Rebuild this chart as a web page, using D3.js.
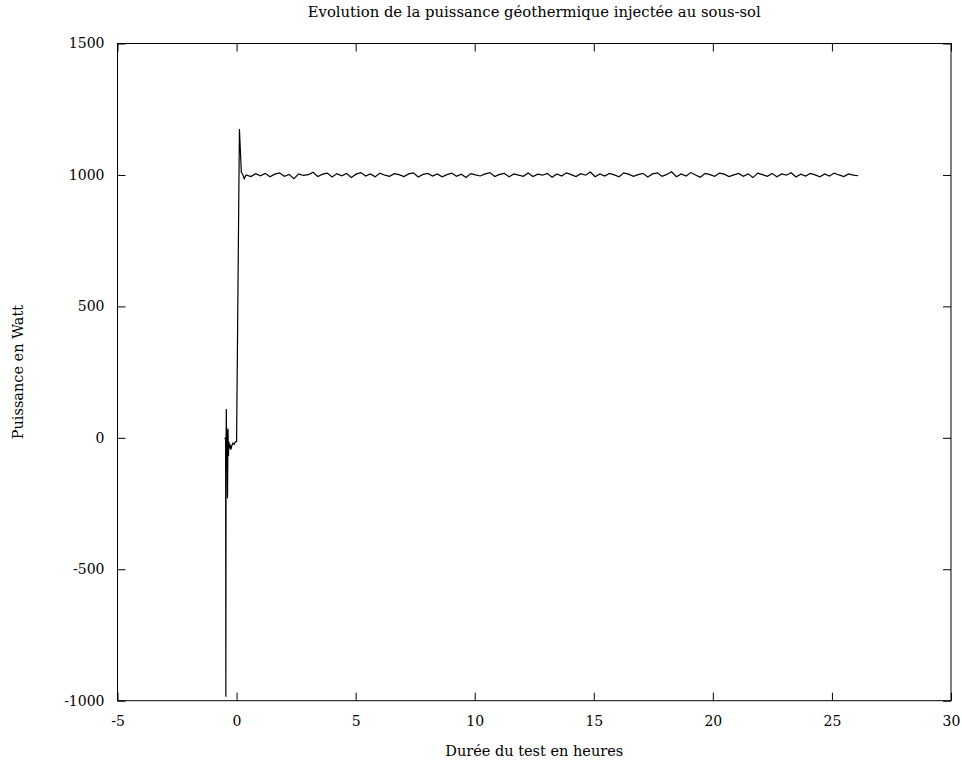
<!DOCTYPE html>
<html><head><meta charset="utf-8">
<script src="https://cdn.jsdelivr.net/npm/d3@7"></script>
<style>
html,body{margin:0;padding:0;background:#fff;}
text{font-family:"DejaVu Serif","Liberation Serif",serif;font-size:14px;fill:#000;}
</style></head>
<body>
<svg id="chart" width="962" height="764"></svg>
<script>
const titleText = "Evolution de la puissance géothermique injectée au sous-sol";
const xLabel = "Durée du test en heures";
const yLabel = "Puissance en Watt";
const xTicks = [-5, 0, 5, 10, 15, 20, 25, 30];
const yTicks = [-1000, -500, 0, 500, 1000, 1500];

// start-up phase (hours, watts)
const startHours = [-0.50, -0.46, -0.45, -0.44, -0.43, -0.42, -0.40, -0.38, -0.36, -0.34, -0.32, -0.30, -0.27, -0.24, -0.20, -0.15, -0.10, -0.05, 0.00, 0.12, 0.20, 0.26, 0.32];
const startWatts = [0, -5, -985, -10, 110, -20, 30, -230, 35, -70, -15, -40, -25, -45, -30, -20, -25, -15, -15, 1175, 1010, 1002, 986];

// steady phase: first / last sample time
const steadyStart = 0.4, steadyEnd = 26.1;
const steadyWatts = [1000, 994, 1005, 997, 1006, 993, 1003, 1008, 995, 1002, 986, 1004, 998, 1001, 1010, 994, 1003, 1007, 992, 1005,
 997, 1006, 990, 1003, 1009, 996, 1004, 993, 1007, 999, 995, 1005, 1001, 994, 1004, 1008, 992, 1002, 1006, 996,
 1004, 993, 1001, 1007, 995, 1003, 990, 1005, 1000, 996, 1004, 1009, 994, 1002, 1006, 993, 1004, 999, 995, 1007,
 994, 1003, 999, 1006, 991, 1004, 996, 1008, 1001, 994, 1005, 999, 1011, 993, 1004, 996, 1006, 1000, 993, 1008,
 1003, 995, 1001, 1006, 992, 1004, 1008, 995, 1002, 1012, 993, 1004, 996, 1009, 1000, 991, 1006, 1001, 995, 1007,
 1003, 994, 1000, 1006, 995, 1004, 990, 1007, 1001, 995, 1006, 993, 1004, 999, 1008, 992, 1003, 996, 1006, 1000,
 993, 1004, 996, 1007, 1000, 994, 1004, 999, 997];

const W = 962, H = 764;
const margin = {left: 117.5, right: 11, top: 43.5, bottom: 63.3};
const svg = d3.select("#chart");
const x = d3.scaleLinear().domain([-5, 30]).range([margin.left, W - margin.right]);
const y = d3.scaleLinear().domain([-1000, 1500]).range([H - margin.bottom, margin.top]);

const data = startHours.map((h, i) => [h, startWatts[i]]);
const step = (steadyEnd - steadyStart) / (steadyWatts.length - 1);
steadyWatts.forEach((v, i) => data.push([steadyStart + i * step, v]));

const fmt = d => String(d);
const tickLen = 8;
// axes with inward ticks on all sides
svg.append("g").attr("transform", `translate(0,${y(-1000)})`)
  .call(d3.axisBottom(x).tickValues(xTicks).tickSize(-tickLen).tickPadding(15).tickFormat(fmt))
  .call(g => g.select(".domain").remove());
svg.append("g").attr("transform", `translate(0,${y(1500)})`)
  .call(d3.axisTop(x).tickValues(xTicks).tickSize(-tickLen).tickFormat(""))
  .call(g => g.select(".domain").remove());
svg.append("g").attr("transform", `translate(${x(-5)},0)`)
  .call(d3.axisLeft(y).tickValues(yTicks).tickSize(-tickLen).tickPadding(13).tickFormat(fmt))
  .call(g => g.select(".domain").remove());
svg.append("g").attr("transform", `translate(${x(30)},0)`)
  .call(d3.axisRight(y).tickValues(yTicks).tickSize(-tickLen).tickFormat(""))
  .call(g => g.select(".domain").remove());
svg.selectAll(".tick text").style("font-family", "DejaVu Serif").style("font-size", "14px").attr("fill", "#000");
svg.selectAll(".tick line").attr("stroke", "#000");

// frame
svg.append("rect").attr("x", x(-5)).attr("y", y(1500))
  .attr("width", x(30) - x(-5)).attr("height", y(-1000) - y(1500))
  .attr("fill", "none").attr("stroke", "#000").attr("stroke-width", 1);

// data line
svg.append("path").datum(data)
  .attr("fill", "none").attr("stroke", "#000").attr("stroke-width", 1.2)
  .attr("d", d3.line().x(d => x(d[0])).y(d => y(d[1])));

// texts
svg.append("text").attr("x", (x(-5) + x(30)) / 2).attr("y", 17).attr("text-anchor", "middle").style("font-size", "14.8px").text(titleText);
svg.append("text").attr("x", (x(-5) + x(30)) / 2).attr("y", 756).attr("text-anchor", "middle").style("font-size", "14.5px").text(xLabel);
svg.append("text").attr("transform", `translate(23,${(y(-1000) + y(1500)) / 2}) rotate(-90)`)
  .attr("text-anchor", "middle").style("font-size", "14.5px").text(yLabel);
</script>
</body></html>
